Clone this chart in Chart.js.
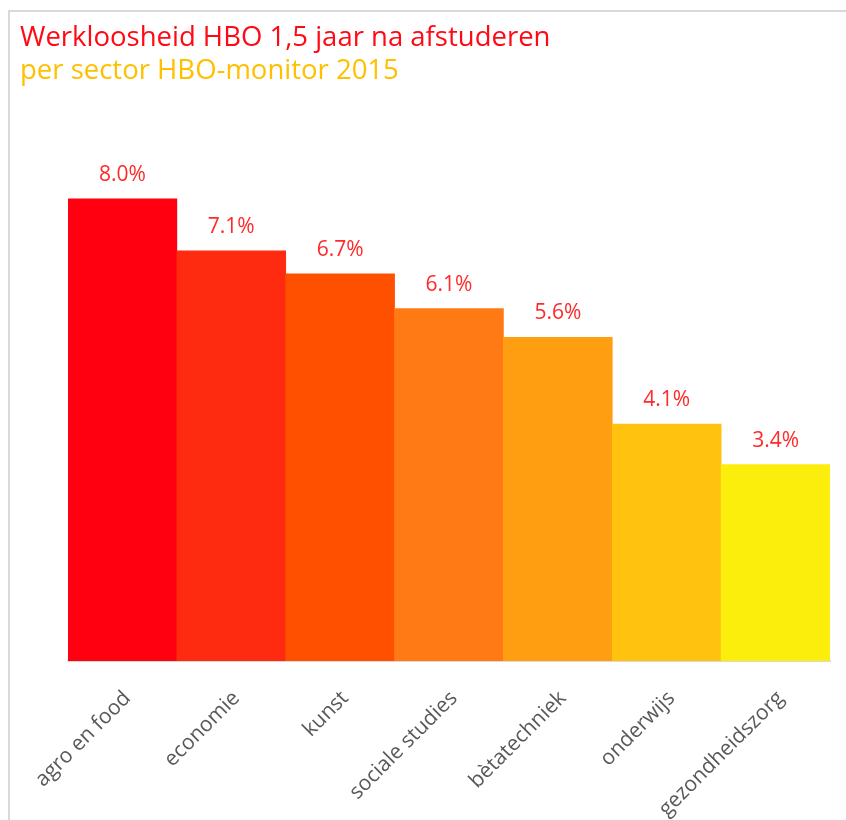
<!DOCTYPE html>
<html>
<head>
<meta charset="utf-8">
<title>Werkloosheid HBO</title>
<script src="https://cdn.jsdelivr.net/npm/chart.js@4/dist/chart.umd.min.js"></script>
<style>
    html, body { margin: 0; padding: 0; background: #fff; }
    #frame {
        position: absolute; left: 8px; top: 10px; width: 900px; height: 900px;
        border-top: 2px solid #d9d9d9; border-left: 2px solid #d9d9d9;
    }
    #chart { position: absolute; left: 0; top: 0; }
</style>
</head>
<body>
<div id="frame"></div>
<canvas id="chart" width="846" height="820"></canvas>
<script>
const sectors = ['agro en food', 'economie', 'kunst', 'sociale studies', 'bètatechniek', 'onderwijs', 'gezondheidszorg'];
const unemployment = [8.0, 7.1, 6.7, 6.1, 5.6, 4.1, 3.4];
const barColors = ['#ff0010', '#ff2b10', '#ff5000', '#ff7a14', '#ff9e10', '#ffc30f', '#fcee0c'];
const titleText = 'Werkloosheid HBO 1,5 jaar na afstuderen';
const subtitleText = 'per sector HBO-monitor 2015';

const FONT = "'Open Sans', 'Noto Sans', sans-serif";

// value labels above each bar
const valueLabels = {
    id: 'valueLabels',
    afterDatasetsDraw(chart) {
        const ctx = chart.ctx;
        const meta = chart.getDatasetMeta(0);
        ctx.save();
        ctx.font = '21px ' + FONT;
        ctx.fillStyle = '#ff2a2a';
        ctx.textAlign = 'center';
        ctx.textBaseline = 'alphabetic';
        meta.data.forEach((bar, i) => {
            ctx.fillText(unemployment[i].toFixed(1) + '%', bar.x, bar.y - 18);
        });
        ctx.restore();
    }
};

new Chart(document.getElementById('chart'), {
    type: 'bar',
    data: {
        labels: sectors,
        datasets: [{
            data: unemployment,
            backgroundColor: barColors,
            borderWidth: 0,
            barPercentage: 1,
            categoryPercentage: 1
        }]
    },
    options: {
        responsive: false,
        animation: false,
        devicePixelRatio: 1,
        layout: { padding: { top: 0, left: 20, right: 16, bottom: 0 } },
        plugins: {
            legend: { display: false },
            tooltip: { enabled: false },
            title: {
                display: true,
                text: titleText,
                align: 'start',
                color: '#ff0a14',
                font: { family: FONT, size: 27.5, weight: 'normal' },
                padding: { top: 22, bottom: 0 }
            },
            subtitle: {
                display: true,
                text: subtitleText,
                align: 'start',
                color: '#ffc000',
                font: { family: FONT, size: 27.5, weight: 'normal' },
                padding: { top: 0, bottom: 53 }
            }
        },
        scales: {
            x: {
                grid: { display: false, drawTicks: false },
                border: { display: true, color: '#d9d9d9', width: 2 },
                ticks: {
                    color: '#595959',
                    font: { family: FONT, size: 21 },
                    minRotation: 45,
                    maxRotation: 45,
                    autoSkip: false,
                    padding: 25,
                    labelOffset: 5
                },
                afterFit(scale) { scale.height = 159; }
            },
            y: {
                min: 0,
                max: 9,
                grid: { display: false, drawTicks: false },
                border: { display: false },
                ticks: { display: false },
                afterFit(scale) { scale.width = 48; }
            }
        }
    },
    plugins: [valueLabels]
});
</script>
</body>
</html>
